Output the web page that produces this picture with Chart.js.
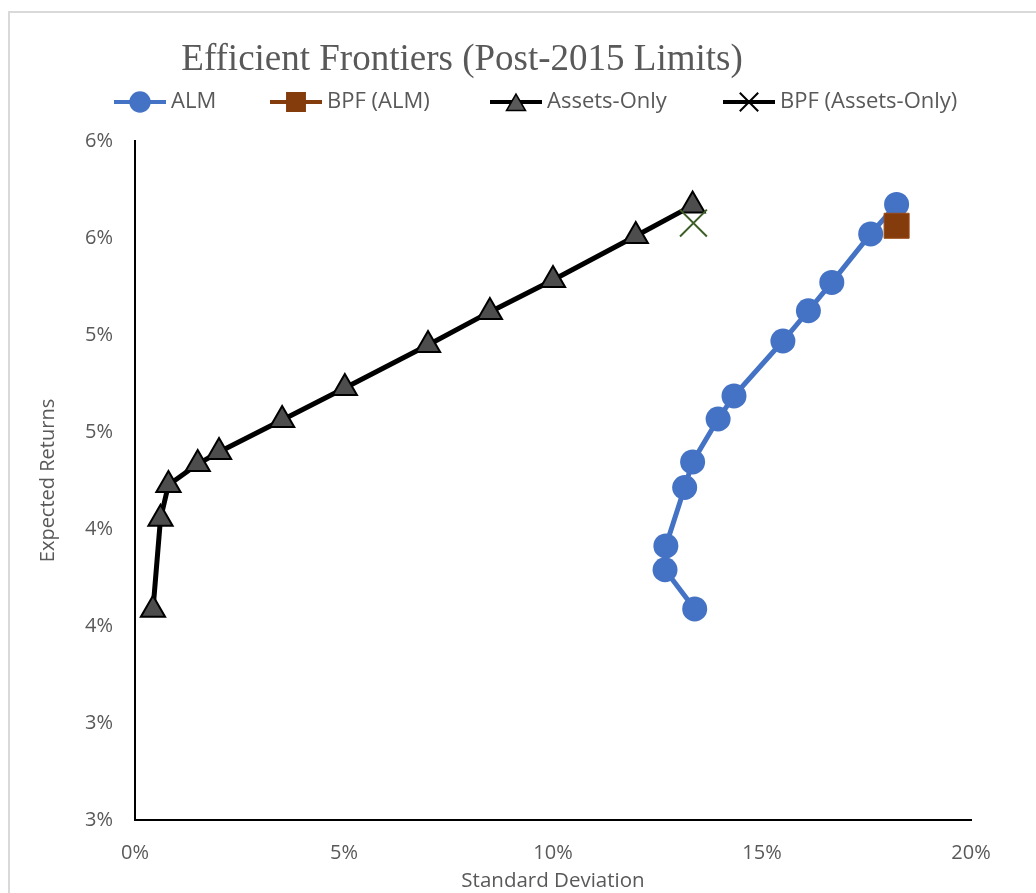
<!DOCTYPE html>
<html>
<head>
<meta charset="utf-8">
<title>Efficient Frontiers (Post-2015 Limits)</title>
<script src="https://cdn.jsdelivr.net/npm/chart.js@4/dist/chart.umd.min.js"></script>
<style>
  html, body { margin: 0; padding: 0; background: #fff; }
  #wrap { width: 1036px; height: 893px; }
</style>
</head>
<body>
<div id="wrap"><canvas id="chartCanvas" width="1036" height="893"></canvas></div>
<script>
// ======== DATA (values in %) ========
const almSD      = [13.39, 12.68, 12.70, 13.15, 13.34, 13.95, 14.33, 15.50, 16.11, 16.67, 17.60, 18.22];
const almRet     = [3.588, 3.790, 3.913, 4.214, 4.346, 4.567, 4.686, 4.969, 5.125, 5.271, 5.521, 5.673];
const bpfAlmSD   = [18.22];
const bpfAlmRet  = [5.563];
const assetsSD   = [0.43, 0.61, 0.80, 1.50, 2.01, 3.52, 5.02, 7.01, 8.49, 10.0, 11.98, 13.34];
const assetsRet  = [3.584, 4.053, 4.227, 4.335, 4.397, 4.562, 4.727, 4.948, 5.119, 5.284, 5.510, 5.668];
const bpfAssetsSD  = [13.36];
const bpfAssetsRet = [5.577];

const seriesNames = ["ALM", "BPF (ALM)", "Assets-Only", "BPF (Assets-Only)"];
const xTicks = [0, 5, 10, 15, 20];
const yTicks = [2.5, 3.0, 3.5, 4.0, 4.5, 5.0, 5.5, 6.0];

const GRAY = "#595959";
const SANS = "'Open Sans', sans-serif";
const toPoints = (xs, ys) => xs.map((x, i) => ({ x: x, y: ys[i] }));

// ======== TITLE + LEGEND + BORDER (vẽ tay) ========
const legendItems = [
  { text: seriesNames[0], start: 114, line: "#4472C4", style: "circle", fill: "#4472C4", border: "#4472C4", r: 10 },
  { text: seriesNames[1], start: 270, line: "#843C0C", style: "rect", fill: "#843C0C", border: "#843C0C", r: 13 },
  { text: seriesNames[2], start: 490, line: "#000000", style: "triangle", fill: "#595959", border: "#000000", r: 11 },
  { text: seriesNames[3], start: 723, line: "#000000", style: "crossRot", fill: "#000000", border: "#000000", r: 13 },
];

const decorPlugin = {
  id: "decor",
  beforeDraw(chart) {
    const ctx = chart.ctx;
    ctx.save();
    ctx.fillStyle = "#fff";
    ctx.fillRect(0, 0, chart.width, chart.height);
    ctx.strokeStyle = "#d9d9d9";
    ctx.lineWidth = 2;
    ctx.strokeRect(9, 12, chart.width + 20, chart.height + 20);
    ctx.restore();
  },
  afterDraw(chart) {
    const ctx = chart.ctx;
    ctx.save();
    ctx.fillStyle = GRAY;
    ctx.font = "37px 'Liberation Serif', 'Times New Roman', serif";
    ctx.textBaseline = "middle";
    ctx.textAlign = "center";
    ctx.fillText("Efficient Frontiers (Post-2015 Limits)", 462, 60);

    const ly = 102;
    legendItems.forEach((it) => {
      ctx.strokeStyle = it.line;
      ctx.lineWidth = 4;
      ctx.beginPath();
      ctx.moveTo(it.start, ly);
      ctx.lineTo(it.start + 52, ly);
      ctx.stroke();

      // drawPoint dùng fillStyle/strokeStyle hiện tại
      ctx.fillStyle = it.fill;
      ctx.strokeStyle = it.border;
      ctx.lineWidth = it.style === "crossRot" ? 2 : 1.5;
      Chart.helpers.drawPoint(ctx, { pointStyle: it.style, radius: it.r, rotation: 0, borderWidth: ctx.lineWidth },
        it.start + 26, ly + (it.style === "triangle" ? 3 : 0));

      ctx.fillStyle = GRAY;
      ctx.font = "22px " + SANS;
      ctx.textAlign = "left";
      ctx.textBaseline = "middle";
      ctx.fillText(it.text, it.start + 57, ly);
    });
    ctx.restore();
  },
};

// ======== CHART ========
const ctx = document.getElementById("chartCanvas").getContext("2d");
window.myChart = new Chart(ctx, {
  type: "scatter",
  data: {
    datasets: [
      {
        label: seriesNames[0],
        data: toPoints(almSD, almRet),
        showLine: true,
        borderColor: "#4472C4",
        borderWidth: 5,
        backgroundColor: "#4472C4",
        pointStyle: "circle",
        pointRadius: 12.5,
        pointBorderWidth: 0,
        order: 4,
      },
      {
        label: seriesNames[1],
        data: toPoints(bpfAlmSD, bpfAlmRet),
        backgroundColor: "#843C0C",
        borderColor: "#9c4a1a",
        pointStyle: "rect",
        pointRadius: 17.7,
        pointBorderWidth: 1,
        order: 3,
      },
      {
        label: seriesNames[2],
        data: toPoints(assetsSD, assetsRet),
        showLine: true,
        borderColor: "#000000",
        borderWidth: 5,
        backgroundColor: "#4d4d4d",
        pointStyle: "triangle",
        pointRadius: 14,
        pointBorderWidth: 2,
        pointBorderColor: "#000000",
        order: 2,
      },
      {
        label: seriesNames[3],
        data: toPoints(bpfAssetsSD, bpfAssetsRet),
        borderColor: "#3d5f27",
        backgroundColor: "#3d5f27",
        pointStyle: "crossRot",
        pointRadius: 19,
        pointBorderWidth: 2,
        order: 1,
      },
    ],
  },
  options: {
    responsive: false,
    animation: false,
    layout: { padding: { left: 0, right: 65, top: 141, bottom: 0 } },
    plugins: {
      legend: { display: false },
      title: { display: false },
      tooltip: { enabled: false },
    },
    scales: {
      x: {
        type: "linear",
        min: 0,
        max: 20,
        afterBuildTicks: (s) => { s.ticks = xTicks.map((v) => ({ value: v })); },
        afterFit: (s) => { s.height = 73; },
        grid: { display: false, drawTicks: false },
        border: { display: true, color: "#000", width: 2 },
        ticks: {
          padding: 21,
          color: GRAY,
          font: { family: SANS, size: 20 },
          callback: (v) => v + "%",
        },
        title: {
          display: true,
          text: "Standard Deviation",
          color: GRAY,
          font: { family: SANS, size: 20.5 },
          padding: { top: 0, bottom: 0 },
        },
      },
      y: {
        type: "linear",
        min: 2.5,
        max: 6.0,
        afterBuildTicks: (s) => { s.ticks = yTicks.map((v) => ({ value: v })); },
        afterFit: (s) => { s.width = 135; },
        grid: { display: false, drawTicks: false },
        border: { display: true, color: "#000", width: 2 },
        ticks: {
          padding: 22,
          color: GRAY,
          font: { family: SANS, size: 20 },
          callback: (v) => Math.round(v) + "%",
        },
        title: {
          display: true,
          text: "Expected Returns",
          color: GRAY,
          font: { family: SANS, size: 20 },
          padding: { top: 36, bottom: 0 },
        },
      },
    },
  },
  plugins: [decorPlugin],
});
</script>
</body>
</html>
